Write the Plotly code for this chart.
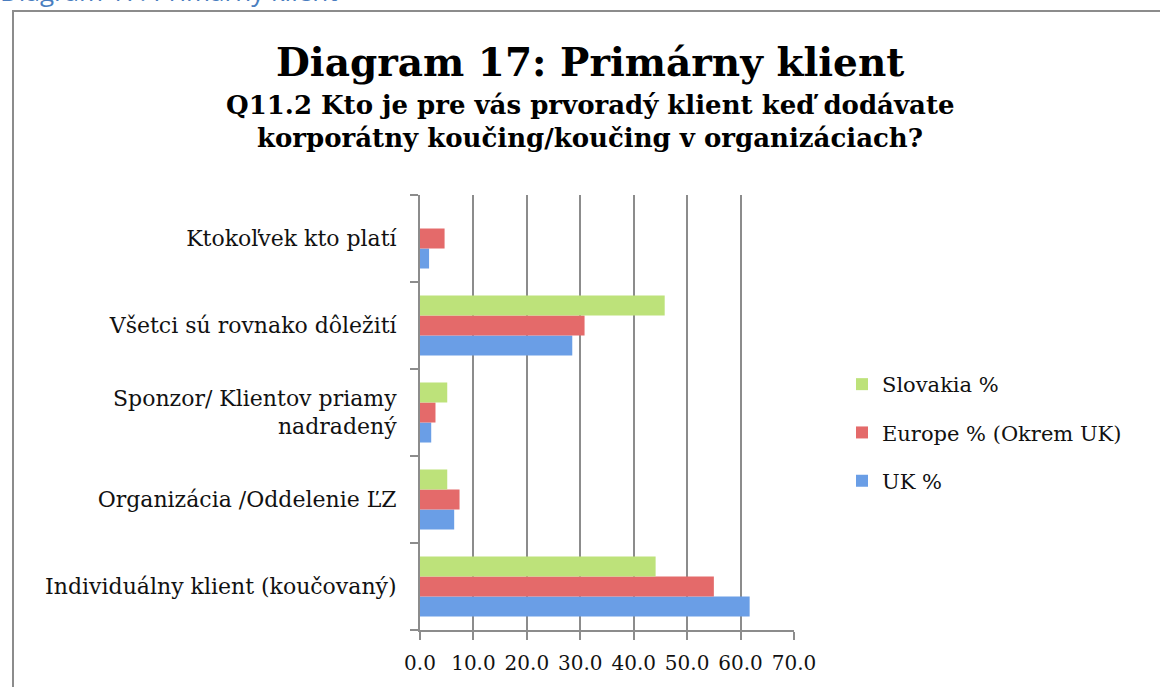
import plotly.graph_objects as go

categories = [
    "Individuálny klient (koučovaný)",
    "Organizácia /Oddelenie ĽZ",
    "Sponzor/ Klientov priamy<br>nadradený",
    "Všetci sú rovnako dôležití",
    "Ktokoľvek kto platí",
]
uk = [61.7, 6.4, 2.1, 28.5, 1.7]
europe = [55.0, 7.4, 2.9, 30.8, 4.6]
slovakia = [44.1, 5.1, 5.1, 45.8, 0.0]
x_ticks = [0, 10, 20, 30, 40, 50, 60, 70]
x_labels = ["0.0", "10.0", "20.0", "30.0", "40.0", "50.0", "60.0", "70.0"]

W, H = 1160, 687
serif = "DejaVu Serif"

fig = go.Figure()
fig.add_trace(go.Bar(y=categories, x=uk, orientation="h", name="UK %", legendgroup="c", legendrank=3,
                     marker=dict(color="#6a9ee6", line=dict(width=0))))
fig.add_trace(go.Bar(y=categories, x=europe, orientation="h", name="Europe % (Okrem UK)", legendgroup="b",
                     legendrank=2, marker=dict(color="#e46a6a", line=dict(width=0))))
fig.add_trace(go.Bar(y=categories, x=slovakia, orientation="h", name="Slovakia %", legendgroup="a",
                     legendrank=1, marker=dict(color="#bde27a", line=dict(width=0))))

def px_x(p):
    return p / W

def px_y(p):
    return 1 - p / H

fig.update_layout(
    width=W, height=H,
    margin=dict(l=0, r=0, t=0, b=0, autoexpand=False),
    paper_bgcolor="white", plot_bgcolor="white",
    barmode="group", bargap=0.31, bargroupgap=0,
    showlegend=True,
    legend=dict(traceorder="grouped", x=px_x(842), y=px_y(364), xanchor="left", yanchor="top",
                font=dict(family=serif, size=21, color="#111"), itemsizing="constant",
                tracegroupgap=18, itemwidth=30, bgcolor="rgba(0,0,0,0)"),
    xaxis=dict(domain=[px_x(420), px_x(794)], range=[0, 70], tickvals=x_ticks, ticktext=x_labels,
               showgrid=True, gridcolor="#8c8c8c", gridwidth=2, automargin=False,
               showline=True, linecolor="#8c8c8c", linewidth=2,
               ticks="outside", ticklen=8, tickwidth=2, tickcolor="#8c8c8c",
               tickfont=dict(family=serif, size=20, color="#111"), zeroline=False,
               ticklabelstandoff=6, fixedrange=True),
    yaxis=dict(domain=[px_y(630), px_y(195)], type="category", automargin=False,
               showline=True, linecolor="#8c8c8c", linewidth=2,
               ticks="outside", ticklen=8, tickwidth=2, tickcolor="#8c8c8c",
               tickson="boundaries", showgrid=False,
               tickfont=dict(family=serif, size=22, color="#111"), ticklabelstandoff=17,
               fixedrange=True),
    shapes=[dict(type="rect", xref="paper", yref="paper", x0=px_x(13), x1=px_x(1200),
                 y0=px_y(740), y1=px_y(11), line=dict(color="#8c8c8c", width=2),
                 fillcolor="rgba(0,0,0,0)", layer="below")],
    annotations=[
        dict(text="Diagram 17: Primárny klient", xref="paper", yref="paper",
             x=px_x(-2), y=px_y(11), xanchor="left", yanchor="bottom", showarrow=False,
             font=dict(family="Open Sans", size=26, color="#4a7ebf")),
        dict(text="<b>Diagram 17: Primárny klient</b>", xref="paper", yref="paper",
             x=px_x(590), y=px_y(62), xanchor="center", yanchor="middle", showarrow=False,
             font=dict(family=serif, size=39, color="#000")),
        dict(text="<b>Q11.2 Kto je pre vás prvoradý klient keď dodávate</b>", xref="paper", yref="paper",
             x=px_x(590), y=px_y(105), xanchor="center", yanchor="middle", showarrow=False,
             font=dict(family=serif, size=26, color="#000")),
        dict(text="<b>korporátny koučing/koučing v organizáciach?</b>", xref="paper", yref="paper",
             x=px_x(590), y=px_y(138), xanchor="center", yanchor="middle", showarrow=False,
             font=dict(family=serif, size=26, color="#000")),
    ],
)

fig.write_html("out.html", config={"displayModeBar": False},
               post_script="document.body.style.margin='0';")
